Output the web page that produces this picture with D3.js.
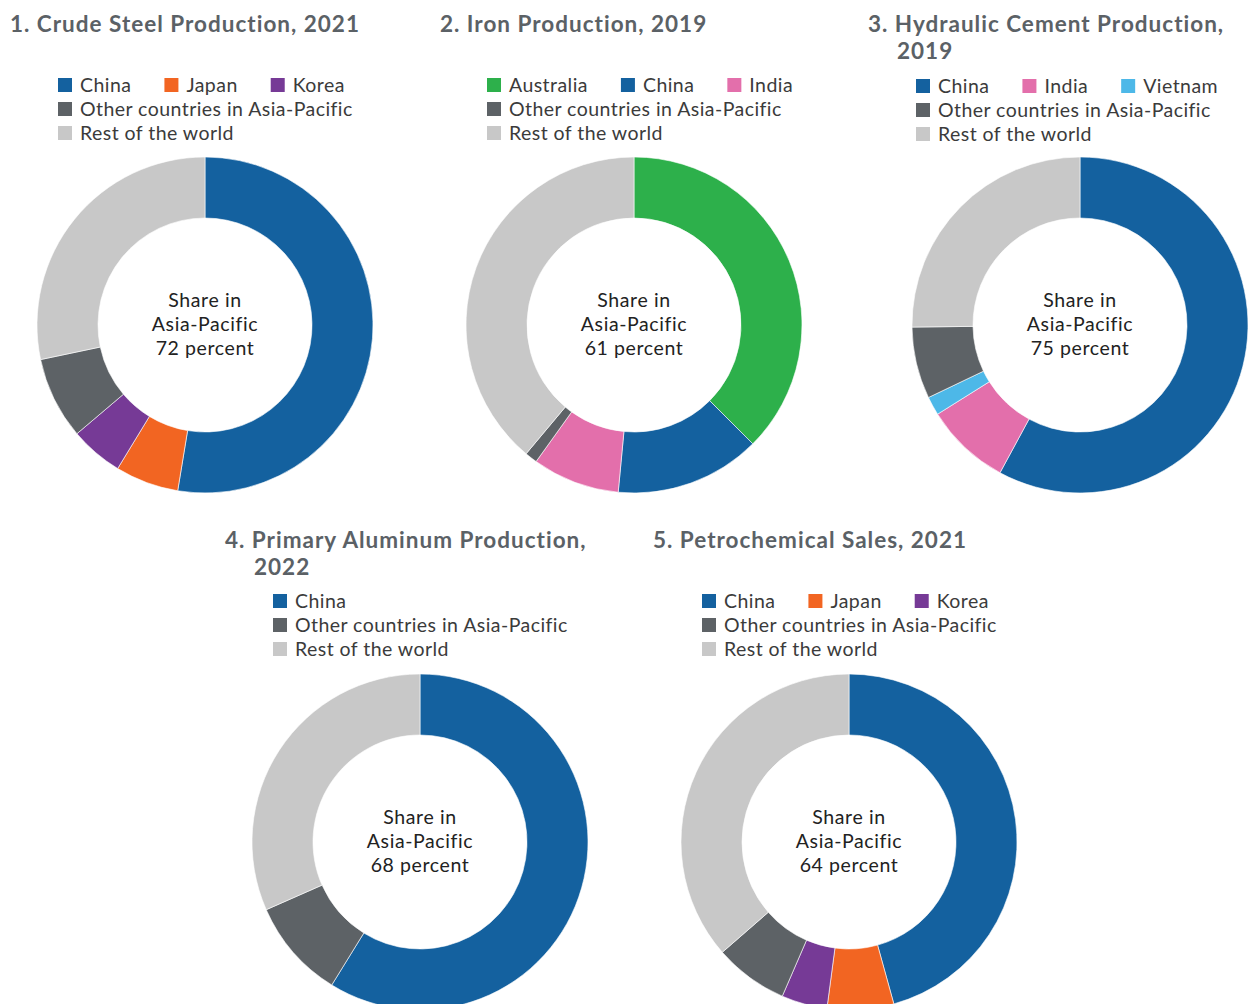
<!DOCTYPE html>
<html>
<head>
<meta charset="utf-8">
<script src="https://cdn.jsdelivr.net/npm/d3@7"></script>
<style>
  body { margin: 0; background: #fff; }
  svg { display: block; font-family: Lato, "Noto Sans", sans-serif; }
</style>
</head>
<body>
<div id="chart"></div>
<script>
// Data
var titles = [
  ["1. Crude Steel Production, 2021"],
  ["2. Iron Production, 2019"],
  ["3. Hydraulic Cement Production,", "2019"],
  ["4. Primary Aluminum Production,", "2022"],
  ["5. Petrochemical Sales, 2021"]
];
var shares = [72, 61, 75, 68, 64];

var steelNames = ["China", "Japan", "Korea", "Other countries in Asia-Pacific", "Rest of the world"];
var steelValues = [52.6, 6.1, 5.1, 7.9, 28.3];

var ironNames = ["Australia", "China", "India", "Other countries in Asia-Pacific", "Rest of the world"];
var ironValues = [37.5, 14.0, 8.4, 1.2, 38.9];

var cementNames = ["China", "India", "Vietnam", "Other countries in Asia-Pacific", "Rest of the world"];
var cementValues = [57.9, 8.2, 1.8, 6.9, 25.2];

var aluminumNames = ["China", "Other countries in Asia-Pacific", "Rest of the world"];
var aluminumValues = [58.8, 9.6, 31.6];

var petroNames = ["China", "Japan", "Korea", "Other countries in Asia-Pacific", "Rest of the world"];
var petroValues = [45.7, 6.4, 4.4, 7.1, 36.4];

var colors = {
  "China": "#14619f",
  "Japan": "#f26522",
  "Korea": "#763a96",
  "Australia": "#2db04b",
  "India": "#e36fab",
  "Vietnam": "#4db8e8",
  "Other countries in Asia-Pacific": "#5d6266",
  "Rest of the world": "#c8c8c8"
};

// Layout
var width = 1249;
var height = 1004;
var outerR = 168;
var innerR = 107;

var panels = [
  { names: steelNames, values: steelValues, tx: 10, ty: 32, lx: 58, ly: 85, cx: 205, cy: 325 },
  { names: ironNames, values: ironValues, tx: 440, ty: 32, lx: 487, ly: 85, cx: 634, cy: 325 },
  { names: cementNames, values: cementValues, tx: 868, ty: 32, lx: 916, ly: 86, cx: 1080, cy: 325 },
  { names: aluminumNames, values: aluminumValues, tx: 225, ty: 548, lx: 273, ly: 601, cx: 420, cy: 842 },
  { names: petroNames, values: petroValues, tx: 653, ty: 548, lx: 702, ly: 601, cx: 849, cy: 842 }
];

var svg = d3.select("#chart").append("svg")
  .attr("width", width)
  .attr("height", height);

var pie = d3.pie().sort(null).value(d => d.value);
var arc = d3.arc().innerRadius(innerR).outerRadius(outerR);

panels.forEach((p, i) => {
  var g = svg.append("g");

  // title
  var title = g.append("text")
    .attr("x", p.tx)
    .attr("y", p.ty)
    .attr("font-size", "22.5px")
    .attr("font-weight", "bold")
    .attr("letter-spacing", "1px")
    .attr("fill", "#5b6166");
  titles[i].forEach((line, k) => {
    title.append("tspan")
      .attr("x", k === 0 ? p.tx : p.tx + 29)
      .attr("dy", k === 0 ? 0 : 27)
      .text(line);
  });

  // legend: country rows on line 1, then other / rest
  var countries = p.names.filter(n => n !== "Other countries in Asia-Pacific" && n !== "Rest of the world");
  var rows = [countries, ["Other countries in Asia-Pacific"], ["Rest of the world"]];
  var legend = g.append("g");
  rows.forEach((row, r) => {
    var x = p.lx;
    var y = p.ly + r * 24;
    row.forEach(name => {
      legend.append("rect")
        .attr("x", x)
        .attr("y", y - 7)
        .attr("width", 14)
        .attr("height", 14)
        .attr("fill", colors[name]);
      var t = legend.append("text")
        .attr("x", x + 22)
        .attr("y", y)
        .attr("dy", "0.35em")
        .attr("font-size", "19.5px")
        .attr("letter-spacing", "0.45px")
        .attr("fill", "#3b3b3b")
        .text(name);
      x += 22 + t.node().getComputedTextLength() + 33;
    });
  });

  // donut
  var data = p.names.map((n, k) => ({ name: n, value: p.values[k] }));
  var donut = g.append("g")
    .attr("transform", `translate(${p.cx}, ${p.cy})`);

  donut.selectAll("path")
    .data(pie(data))
    .enter().append("path")
    .attr("d", arc)
    .attr("fill", d => colors[d.data.name])
    .attr("stroke", "#fff")
    .attr("stroke-width", 0.6);

  var label = ["Share in", "Asia-Pacific", shares[i] + " percent"];
  donut.selectAll("text.center")
    .data(label)
    .enter().append("text")
    .attr("class", "center")
    .attr("x", 0)
    .attr("y", (d, k) => (k - 1) * 24 - 1)
    .attr("dy", "0.35em")
    .attr("text-anchor", "middle")
    .attr("font-size", "19.5px")
    .attr("letter-spacing", "0.6px")
    .attr("fill", "#222")
    .text(d => d);
});
</script>
</body>
</html>
